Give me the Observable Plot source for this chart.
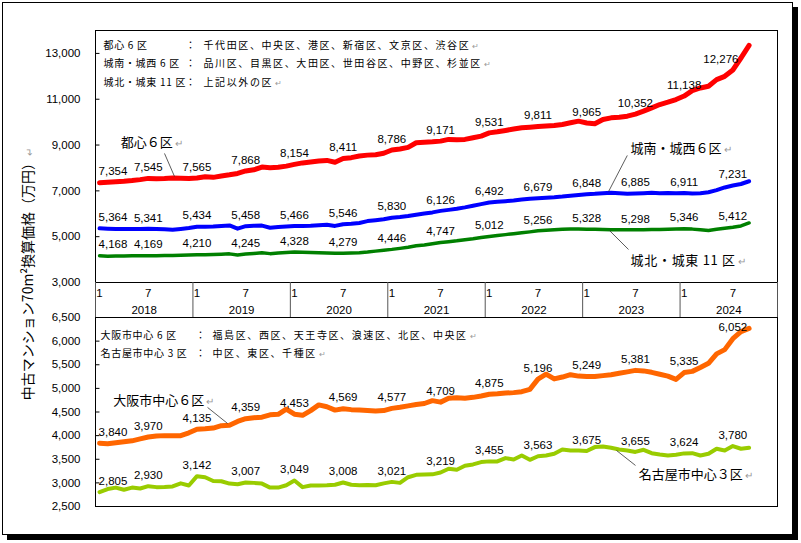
<!DOCTYPE html>
<html><head><meta charset="utf-8">
<script src="https://cdn.jsdelivr.net/npm/d3@7"></script>
<script src="https://cdn.jsdelivr.net/npm/@observablehq/plot@0.6"></script>
<style>
body{margin:0;background:#fff;}
#wrap{position:relative;width:801px;height:543px;overflow:hidden;background:#fff;}
#box{position:absolute;left:2px;top:2px;width:789px;height:531px;border:1px solid #000;box-shadow:5px 5px 0 #000;}
#wrap svg{position:absolute;left:0;top:0;}
#ytitle{position:absolute;left:27px;top:274px;transform:translate(-50%,-50%) rotate(-90deg);white-space:nowrap;font-size:14px;font-family:"Noto Sans CJK JP",sans-serif;color:#000;}
</style></head>
<body><div id="wrap"><div id="box"></div><div id="ytitle">中古マンション70m²換算価格（万円）<span style="color:#999;font-size:10px">↵</span></div></div>
<script>
// ---- data ----
const months = d3.utcMonth.range(new Date(Date.UTC(2018,0,1)), new Date(Date.UTC(2024,9,1))); // 2018-01 .. 2024-09
const years = [2018, 2019, 2020, 2021, 2022, 2023, 2024];
const monthTickLabels = ["1", "7"];
const topTicks = [3000, 5000, 7000, 9000, 11000, 13000];
const bottomTicks = [2500, 3000, 3500, 4000, 4500, 5000, 5500, 6000, 6500];

const tokyoCentral6 = [
 7354,7380,7400,7420,7450,7490,7545,7530,7540,7560,7550,7540,
 7565,7620,7590,7650,7700,7760,7868,7920,8040,8010,8030,8080,
 8154,8220,8260,8300,8330,8250,8411,8450,8520,8560,8580,8640,
 8786,8830,8900,9100,9120,9140,9171,9246,9230,9246,9319,9391,
 9531,9580,9638,9700,9754,9780,9811,9830,9855,9900,9971,10043,
 9965,9928,10116,10188,10217,10261,10352,10478,10623,10768,10870,10986,
 11138,11377,11493,11565,11855,12000,12276,12800,13348];
const southWest6 = [
 5364,5350,5340,5335,5330,5335,5341,5330,5320,5300,5340,5380,
 5434,5430,5440,5470,5490,5350,5458,5480,5485,5390,5420,5440,
 5466,5470,5480,5500,5520,5470,5546,5560,5600,5680,5720,5760,
 5830,5860,5900,5960,6010,6060,6126,6170,6220,6280,6350,6420,
 6492,6520,6550,6580,6620,6660,6679,6700,6720,6750,6790,6820,
 6848,6870,6900,6920,6900,6870,6885,6900,6920,6900,6910,6900,
 6911,6880,6900,6940,7030,7150,7231,7300,7420];
const northEast11 = [
 4168,4150,4155,4160,4165,4165,4169,4170,4175,4180,4185,4195,
 4210,4215,4225,4235,4250,4200,4245,4270,4300,4260,4290,4310,
 4328,4320,4310,4300,4290,4280,4279,4290,4300,4330,4370,4410,
 4446,4490,4540,4600,4640,4690,4747,4780,4820,4870,4910,4960,
 5012,5050,5090,5130,5170,5210,5256,5280,5300,5320,5330,5330,
 5328,5320,5310,5300,5300,5300,5298,5305,5310,5310,5320,5330,
 5346,5330,5300,5270,5320,5370,5412,5470,5600];
const osakaCentral6 = [
 3840,3830,3850,3870,3890,3930,3970,3990,4000,4000,4000,4060,
 4135,4145,4160,4210,4220,4300,4359,4380,4390,4440,4450,4560,
 4453,4430,4530,4650,4610,4540,4569,4550,4540,4530,4520,4530,
 4577,4600,4630,4660,4680,4740,4709,4790,4800,4790,4810,4840,
 4875,4885,4900,4910,4930,4980,5196,5300,5200,5240,5290,5260,
 5249,5250,5270,5290,5320,5350,5381,5370,5340,5300,5260,5190,
 5335,5360,5440,5530,5730,5820,6052,6200,6270];
const nagoyaCentral3 = [
 2805,2870,2900,2855,2900,2880,2930,2910,2915,2925,2990,2945,
 3142,3120,3040,3035,2985,2970,3007,3000,2985,2900,2900,2950,
 3049,2910,2945,2945,2950,2960,3008,2960,2950,2955,2950,2990,
 3021,3000,3120,3170,3175,3180,3219,3298,3277,3362,3390,3440,
 3455,3453,3524,3495,3580,3488,3563,3580,3615,3708,3686,3686,
 3675,3757,3771,3743,3708,3686,3655,3700,3629,3602,3580,3595,
 3624,3629,3580,3615,3722,3686,3780,3722,3743];

const topLegend = [
 ["都心 6 区", "：", "千代田区、中央区、港区、新宿区、文京区、渋谷区↵"],
 ["城南・城西 6 区", "：", "品川区、目黒区、大田区、世田谷区、中野区、杉並区↵"],
 ["城北・城東 11 区", "：", "上記以外の区↵"]];
const bottomLegend = [
 ["大阪市中心 6 区", "：", "福島区、西区、天王寺区、浪速区、北区、中央区↵"],
 ["名古屋市中心 3 区", "：", "中区、東区、千種区↵"]];

// series name annotations (data units: month index, value) and leader lines
const topNames = [
 {name: "都心６区↵", x: 3.1, v: 9114, lx1: 8.5, lv1: 8633, lx2: 9.73, lv2: 7629},
 {name: "城南・城西６区↵", x: 65.9, v: 8852, lx1: 63.2, lv1: 6974, lx2: 65.5, lv2: 8546},
 {name: "城北・城東 11 区↵", x: 65.9, v: 3961, lx1: 63.3, lv1: 5271, lx2: 65.65, lv2: 4441}];
const bottomNames = [
 {name: "大阪市中心６区↵", x: 2.2, v: 4746, lx1: 13.8, lv1: 4597, lx2: 16.26, lv2: 4258},
 {name: "名古屋市中心３区↵", x: 66.9, v: 3178, lx1: 64.17, lv1: 3686, lx2: 66.51, lv2: 3369}];

// ---- helpers ----
const CJK = "'Noto Sans CJK JP', sans-serif";
const NUM = "'Liberation Sans', Arial, sans-serif";
const fmt = d3.format(",");
const table = values => values.map((v, i) => ({i, x: i + 0.5, v, month: months[i]}));
const legendNames = new Set([...topLegend, ...bottomLegend].map(r => r[0]));
const legendLists = new Set([...topLegend, ...bottomLegend].map(r => r[2].replace("↵", "")));

function valueLabels(values, nudge = {}) {
  const pts = table(values).filter(d => d.i % 6 === 0);
  return pts.map(d => Plot.text([d], {
    x: "x", y: "v", text: d => fmt(d.v),
    dy: -11, dx: d.i === 0 ? -1 : (nudge[d.i] || 0),
    textAnchor: d.i === 0 ? "start" : "middle",
    fontFamily: NUM, fontSize: 11.5, fill: "#000"
  }));
}
function legendRows(rows, cols, dys) {
  const marks = [];
  rows.forEach((row, r) => row.forEach((txt, c) => {
    marks.push(Plot.text([txt], {text: d => d, frameAnchor: "top-left", dx: cols[c], dy: dys[r],
      textAnchor: "start", lineAnchor: "middle", fontFamily: CJK, fontSize: 10, fill: "#000"}));
  }));
  return marks;
}
function nameMarks(names) {
  return [
    Plot.link(names, {x1: "lx1", y1: "lv1", x2: "lx2", y2: "lv2", stroke: "#333", strokeWidth: 0.8}),
    Plot.text(names, {x: "x", y: "v", text: "name", textAnchor: "start", fontFamily: CJK, fontSize: 13, fill: "#000"})
  ];
}
const lineOpts = (color, w) => ({x: "x", y: "v", stroke: color, strokeWidth: w, strokeLinejoin: "round", strokeLinecap: "round"});

const common = {
  width: 801, height: 543, marginLeft: 95, marginRight: 24,
  x: {domain: [0, 84], label: null},
  style: {background: "transparent", fontFamily: NUM, fontSize: "11.5px", color: "#000", overflow: "visible"}
};

const topPlot = Plot.plot({
  ...common, marginTop: 30, marginBottom: 261,
  y: {domain: [3000, 14000], label: null},
  marks: [
    Plot.frame({stroke: "#000"}),
    Plot.axisY(topTicks, {tickSize: 0, tickPadding: 15, tickFormat: fmt, label: null, fontSize: 11.5}),
    Plot.ruleY(topTicks, {y: d => d, x1: 0, x2: 0.55, stroke: "#000"}),
    Plot.axisX(d3.range(0, 84, 6).map(d => d + 0.5), {tickSize: 0, tickPadding: 6, label: null,
      tickFormat: d => monthTickLabels[Math.floor(d) % 12 === 0 ? 0 : 1], fontSize: 11.5}),
    Plot.axisX(d3.range(6, 84, 12), {tickSize: 0, tickPadding: 23, label: null,
      tickFormat: d => String(years[(d - 6) / 12]), fontSize: 11.5}),
    Plot.axisX(d3.range(0, 85, 12), {tickSize: 35, tickFormat: () => "", label: null, stroke: "#555"}),
    ...legendRows(topLegend, [8, 90, 108], [15, 33.5, 52]),
    Plot.line(table(tokyoCentral6), lineOpts("#ff0000", 5)),
    Plot.line(table(southWest6), lineOpts("#0000ff", 4)),
    Plot.line(table(northEast11), lineOpts("#008000", 3.5)),
    ...valueLabels(tokyoCentral6, {78: -12}),
    ...valueLabels(southWest6),
    ...valueLabels(northEast11),
    ...nameMarks(topNames)
  ]
});

const bottomPlot = Plot.plot({
  ...common, marginTop: 317, marginBottom: 37,
  x: {domain: [0, 84], label: null, axis: null},
  y: {domain: [2500, 6500], label: null},
  marks: [
    Plot.frame({stroke: "#000"}),
    Plot.axisY(bottomTicks, {tickSize: 0, tickPadding: 15, tickFormat: fmt, label: null, fontSize: 11.5}),
    Plot.ruleY(bottomTicks, {y: d => d, x1: 0, x2: 0.55, stroke: "#000"}),
    ...legendRows(bottomLegend, [5, 100, 117], [18, 36]),
    Plot.line(table(osakaCentral6), lineOpts("#ff6600", 5)),
    Plot.line(table(nagoyaCentral3), lineOpts("#99cc00", 4)),
    ...valueLabels(osakaCentral6),
    ...valueLabels(nagoyaCentral3),
    ...nameMarks(bottomNames)
  ]
});

const wrap = document.getElementById("wrap");
wrap.appendChild(topPlot);
wrap.appendChild(bottomPlot);

// letter spacing for the district legend, grey paragraph marks
const NS = "http://www.w3.org/2000/svg";
for (const svg of [topPlot, bottomPlot]) {
  svg.querySelectorAll("text").forEach(t => {
    if (t.children.length !== 0) return;
    const raw = t.textContent;
    const s = raw.replace("↵", "");
    if (legendNames.has(s)) t.setAttribute("letter-spacing", "0.7");
    if (legendLists.has(s)) t.setAttribute("letter-spacing", "1.6");
    if (raw.includes("↵")) {
      t.textContent = s;
      const ts = document.createElementNS(NS, "tspan");
      ts.textContent = "↵";
      ts.setAttribute("fill", "#999");
      ts.setAttribute("font-size", "0.75em");
      ts.setAttribute("letter-spacing", "0");
      ts.setAttribute("dx", "2");
      t.appendChild(ts);
    }
  });
}
</script>
</body></html>
